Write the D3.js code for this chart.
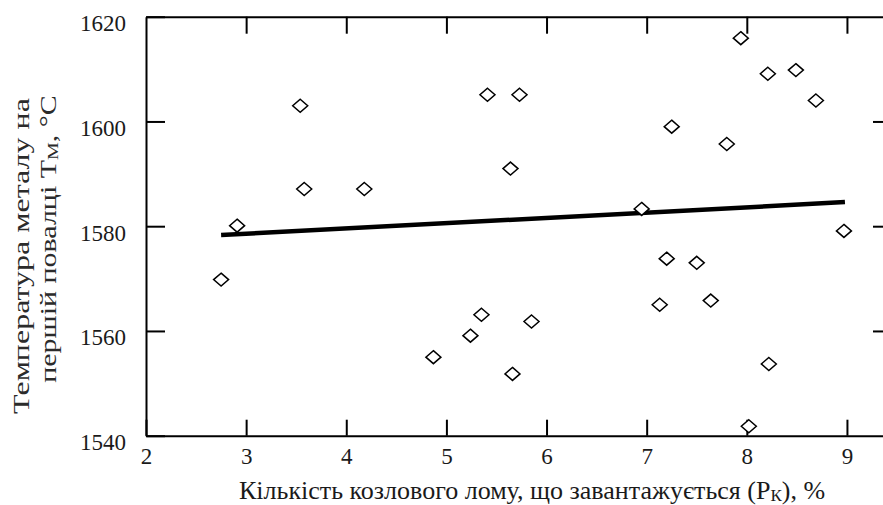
<!DOCTYPE html>
<html>
<head>
<meta charset="utf-8">
<script src="https://cdn.jsdelivr.net/npm/d3@7"></script>
<style>
  body { margin: 0; background: #fff; }
  svg text { font-family: 'Liberation Serif', serif; }
</style>
</head>
<body>
<div class="canvas"></div>
<script>
// data
const scrapPct = [2.75, 2.91, 3.54, 3.58, 4.18, 4.87, 5.24, 5.35, 5.41, 5.64, 5.66, 5.73, 5.85,
                  6.95, 7.13, 7.20, 7.25, 7.50, 7.64, 7.80, 7.94, 8.02, 8.21, 8.22, 8.49, 8.69, 8.97];
const metalTemp = [1569.8, 1580.1, 1603.0, 1587.1, 1587.1, 1555.0, 1559.1, 1563.1, 1605.1, 1591.0, 1551.8, 1605.1, 1561.8,
                   1583.3, 1565.0, 1573.8, 1599.0, 1573.0, 1565.8, 1595.7, 1615.9, 1541.8, 1609.1, 1553.7, 1609.8, 1604.0, 1579.1];
const trendX = [2.75, 8.98];
const trendY = [1578.3, 1584.6];
const xTicks = [2, 3, 4, 5, 6, 7, 8, 9];
const yTicks = [1540, 1560, 1580, 1600, 1620];

const svg = d3.select('.canvas')
    .append('svg')
        .attr('width', 883)
        .attr('height', 505);

const x = d3.scaleLinear().domain([2, 9.45]).range([146, 892]);
const y = d3.scaleLinear().domain([1540, 1620]).range([435.7, 16.7]);

const styleAxis = g => {
    g.attr('font-family', null).attr('font-size', null);
    g.select('.domain').attr('stroke', '#000').attr('stroke-width', 2);
    g.selectAll('.tick line').attr('stroke', '#000').attr('stroke-width', 2);
    g.selectAll('.tick text')
        .style('font-size', '23px')
        .attr('fill', '#1a1a1a');
};

// bottom axis, inward ticks
svg.append('g')
    .attr('transform', `translate(0,${y(1540)})`)
    .call(d3.axisBottom(x).tickValues(xTicks).tickSizeInner(-16).tickSizeOuter(0).tickPadding(12).tickFormat(d3.format('d')))
    .call(styleAxis);

// top axis, inward ticks, no labels
svg.append('g')
    .attr('transform', `translate(0,${y(1620)})`)
    .call(d3.axisTop(x).tickValues(xTicks.slice(1)).tickSizeInner(-17).tickSizeOuter(0).tickFormat(''))
    .call(styleAxis);

// left axis
svg.append('g')
    .attr('transform', `translate(${x(2)},0)`)
    .call(d3.axisLeft(y).tickValues(yTicks).tickSizeInner(-19).tickSizeOuter(0).tickPadding(20).tickFormat(d3.format('d')))
    .call(styleAxis)
    .call(g => g.selectAll('.tick text').attr('dy', '0.6em'));

// right axis (sits at the cropped edge)
svg.append('g')
    .attr('transform', `translate(${x(9.45)},0)`)
    .call(d3.axisRight(y).tickValues([1560, 1580, 1600]).tickSizeInner(-19).tickSizeOuter(0).tickFormat(''))
    .call(styleAxis);

// trend line
svg.append('line')
    .attr('x1', x(trendX[0])).attr('y1', y(trendY[0]))
    .attr('x2', x(trendX[1])).attr('y2', y(trendY[1]))
    .attr('stroke', '#000')
    .attr('stroke-width', 4.5);

// points
svg.selectAll('path.pt')
    .data(scrapPct.map((d, i) => [d, metalTemp[i]]))
    .enter()
    .append('path')
        .attr('class', 'pt')
        .attr('d', 'M0,-6.5L7.5,0L0,6.5L-7.5,0Z')
        .attr('transform', d => `translate(${x(d[0])},${y(d[1])})`)
        .attr('fill', '#fff')
        .attr('stroke', '#000')
        .attr('stroke-width', 1.5);

// axis titles
const xt = svg.append('text')
    .attr('x', 239)
    .attr('y', 499)
    .attr('fill', '#1a1a1a')
    .style('font-size', '26px');
xt.append('tspan').text('Кількість козлового лому, що завантажується (Р');
xt.append('tspan').text('К').style('font-size', '17px').attr('dy', 2);
xt.append('tspan').text('), %').attr('dy', -2);

// the reference's y title is drawn narrow and long
svg.append('text')
    .attr('transform', 'translate(28.5,256) rotate(-90) scale(1,0.72)')
    .attr('text-anchor', 'middle')
    .style('font-size', '32px')
    .attr('fill', '#2b2b2b')
    .text('Температура металу на');

const yt2 = svg.append('text')
    .attr('transform', 'translate(56,239) rotate(-90) scale(1,0.74)')
    .attr('text-anchor', 'middle')
    .style('font-size', '30px')
    .attr('fill', '#2b2b2b');
yt2.append('tspan').text('першій повалці Т');
yt2.append('tspan').text('М').style('font-size', '20px').attr('dy', 3);
yt2.append('tspan').text(', °С').attr('dy', -3);
</script>
</body>
</html>
